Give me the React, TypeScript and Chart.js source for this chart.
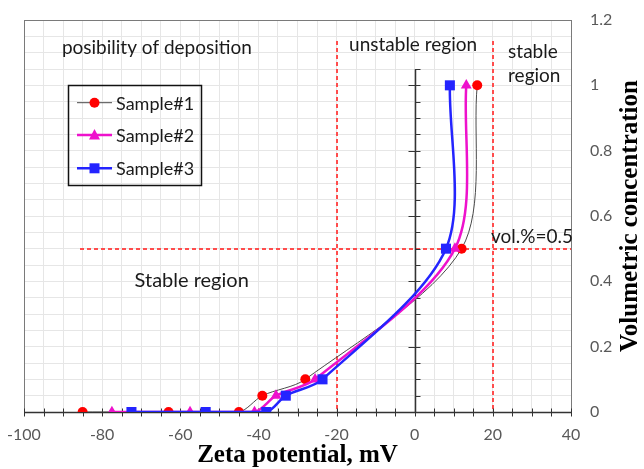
import React, { useEffect, useRef } from "react";
import { Chart, registerables } from "chart.js";

Chart.register(...registerables);

// ---- data ----
const seriesNames = ["Sample#1", "Sample#2", "Sample#3"];
const sample1X = [-85, -63, -45, -39, -28, 12, 16];
const sample1Y = [0, 0, 0, 0.05, 0.1, 0.5, 1.0];
const sample2X = [-77.5, -57.5, -41, -35.5, -25.5, 10.3, 13.2];
const sample2Y = [0, 0, 0, 0.05, 0.1, 0.5, 1.0];
const sample3X = [-72.5, -53.5, -38, -33, -23.6, 8, 9];
const sample3Y = [0, 0, 0, 0.05, 0.1, 0.5, 1.0];

const xTickLabels = [-100, -80, -60, -40, -20, 0, 20, 40];
const yTickLabels = [0, 0.2, 0.4, 0.6, 0.8, 1, 1.2];

const verticalRegionLines = [-20, 20];
const regionLineTop = 1.135;
const thresholdY = 0.5;
const thresholdStartX = -85.7;

const xTitle = "Zeta potential, mV";
const yTitle = "Volumetric concentration";

const toPoints = (xs: number[], ys: number[]) => xs.map((x, i) => ({ x, y: ys[i] }));

const COLORS = {
  s1Line: "#4a4a4a",
  s1Point: "#ff0000",
  s2: "#ee11cc",
  s3: "#2424ff",
  grid: "#e6e6e6",
  tick: "#595959",
  red: "#ff4d4d",
};

const SANS = "Lato, 'Open Sans', sans-serif";
const SERIF = "'Liberation Serif', 'DejaVu Serif', serif";

function drawMarker(ctx: CanvasRenderingContext2D, style: string, x: number, y: number, color: string) {
  ctx.fillStyle = color;
  ctx.beginPath();
  if (style === "circle") {
    ctx.arc(x, y, 5, 0, Math.PI * 2);
  } else if (style === "triangle") {
    ctx.moveTo(x, y - 6);
    ctx.lineTo(x + 5.5, y + 4.5);
    ctx.lineTo(x - 5.5, y + 4.5);
    ctx.closePath();
  } else {
    ctx.rect(x - 5, y - 5, 10, 10);
  }
  ctx.fill();
}

const overlay = {
  id: "overlay",
  beforeDatasetsDraw(chart: any) {
    const { ctx, chartArea: a, scales } = chart;
    const x = scales.x;
    const y = scales.y;
    ctx.save();
    // plot border
    ctx.strokeStyle = "#7a7a7a";
    ctx.lineWidth = 1;
    ctx.strokeRect(Math.round(a.left) + 0.5, Math.round(a.top) + 0.5, Math.round(a.right - a.left), Math.round(a.bottom - a.top));

    // red dashed region lines (drawn as filled dashes, 2px wide)
    ctx.fillStyle = COLORS.red;
    const dash = 4, gap = 3, w = 2;
    for (const v of verticalRegionLines) {
      const px = Math.round(x.getPixelForValue(v)) - 1;
      const top = Math.round(y.getPixelForValue(regionLineTop));
      const bottom = Math.round(y.getPixelForValue(0));
      for (let p = top; p < bottom; p += dash + gap) {
        ctx.fillRect(px, p, w, Math.min(dash, bottom - p));
      }
    }
    const py = Math.round(y.getPixelForValue(thresholdY)) - 1;
    const hx0 = Math.round(x.getPixelForValue(thresholdStartX));
    const hx1 = Math.round(a.right);
    for (let p = hx0; p < hx1; p += dash + gap) {
      ctx.fillRect(p, py, Math.min(dash, hx1 - p), w);
    }

    // x axis at y=0 with crossing ticks
    const y0 = Math.round(y.getPixelForValue(0)) + 0.5;
    ctx.strokeStyle = "#333";
    ctx.lineWidth = 1.5;
    ctx.beginPath();
    ctx.moveTo(a.left, y0);
    ctx.lineTo(a.right, y0);
    ctx.stroke();
    ctx.lineWidth = 1;
    for (let v = -100; v <= 40; v += 5) {
      const px = Math.round(x.getPixelForValue(v)) + 0.5;
      ctx.beginPath();
      ctx.moveTo(px, y0 - 4);
      ctx.lineTo(px, y0 + 4);
      ctx.stroke();
    }

    // y axis at x=0
    const x0 = Math.round(x.getPixelForValue(0)) + 0.5;
    ctx.lineWidth = 1.5;
    ctx.beginPath();
    ctx.moveTo(x0, y.getPixelForValue(0));
    ctx.lineTo(x0, y.getPixelForValue(1.05));
    ctx.stroke();
    ctx.lineWidth = 1;
    for (let i = 1; i <= 21; i++) {
      const v = i * 0.05;
      const p = Math.round(y.getPixelForValue(v)) + 0.5;
      const major = i % 4 === 0;
      ctx.beginPath();
      ctx.moveTo(major ? x0 - 7 : x0, p);
      ctx.lineTo(x0 + 5, p);
      ctx.stroke();
    }
    ctx.restore();
  },
  afterDraw(chart: any) {
    const { ctx, chartArea: a, scales } = chart;
    const x = scales.x;
    const y = scales.y;
    ctx.save();
    ctx.fillStyle = "#1a1a1a";
    ctx.textBaseline = "middle";
    ctx.textAlign = "left";
    ctx.font = `19px ${SANS}`;
    const label = (t: string, xv: number, yv: number) =>
      ctx.fillText(t, x.getPixelForValue(xv), y.getPixelForValue(yv));
    label("posibility of deposition", -90.3, 1.114);
    label("unstable region", -16.8, 1.123);
    label("stable", 23.9, 1.102);
    label("region", 23.9, 1.028);
    label("vol.%=0.5", 19.5, 0.536);
    ctx.font = `20px ${SANS}`;
    label("Stable region", -71.7, 0.401);

    // legend box
    const lx = 68, ly = 85, lw = 133, lh = 100;
    ctx.strokeStyle = "#111";
    ctx.lineWidth = 1.5;
    ctx.strokeRect(lx + 0.5, ly + 0.5, lw, lh);
    const rows = [102.7, 135, 168.3];
    const lineColors = [COLORS.s1Line, COLORS.s2, COLORS.s3];
    const lineWidths = [1, 2.5, 2.5];
    const markColors = [COLORS.s1Point, COLORS.s2, COLORS.s3];
    const styles = ["circle", "triangle", "rect"];
    ctx.font = `18px ${SANS}`;
    rows.forEach((ry, i) => {
      ctx.strokeStyle = lineColors[i];
      ctx.lineWidth = lineWidths[i];
      ctx.beginPath();
      ctx.moveTo(77, ry);
      ctx.lineTo(112, ry);
      ctx.stroke();
      drawMarker(ctx, styles[i], 94.5, ry, markColors[i]);
      ctx.fillStyle = "#1a1a1a";
      ctx.fillText(seriesNames[i], 116, ry + 1);
    });

    // axis titles
    ctx.fillStyle = "#000";
    ctx.font = `bold 25px ${SERIF}`;
    ctx.textAlign = "center";
    ctx.fillText(xTitle, (a.left + a.right) / 2, 456);
    ctx.save();
    ctx.translate(631, (a.top + a.bottom) / 2);
    ctx.rotate(-Math.PI / 2);
    ctx.font = `bold 25px ${SERIF}`;
    ctx.fillText(yTitle, 0, 0);
    ctx.restore();
    ctx.restore();
  },
};

export default function App() {
  const ref = useRef<HTMLCanvasElement | null>(null);
  useEffect(() => {
    if (!ref.current) return;
    const chart = new Chart(ref.current, {
      type: "scatter",
      data: {
        datasets: [
          {
            label: seriesNames[0],
            data: toPoints(sample1X, sample1Y),
            showLine: true,
            tension: 0.3,
            borderColor: COLORS.s1Line,
            borderWidth: 1,
            pointStyle: "circle",
            pointRadius: 5,
            pointBackgroundColor: COLORS.s1Point,
            pointBorderWidth: 0,
            order: 3,
          },
          {
            label: seriesNames[1],
            data: toPoints(sample2X, sample2Y),
            showLine: true,
            tension: 0.3,
            borderColor: COLORS.s2,
            borderWidth: 2.5,
            pointStyle: "triangle",
            pointRadius: 6.3,
            pointBackgroundColor: COLORS.s2,
            pointBorderWidth: 0,
            order: 2,
          },
          {
            label: seriesNames[2],
            data: toPoints(sample3X, sample3Y),
            showLine: true,
            tension: 0.3,
            borderColor: COLORS.s3,
            borderWidth: 2.5,
            pointStyle: "rect",
            pointRadius: 7.1,
            pointBackgroundColor: COLORS.s3,
            pointBorderWidth: 0,
            order: 1,
          },
        ],
      },
      options: {
        animation: false,
        responsive: false,
        maintainAspectRatio: false,
        layout: { padding: { left: 24, top: 20, right: 0, bottom: 0 } },
        plugins: { legend: { display: false }, tooltip: { enabled: false } },
        scales: {
          x: {
            type: "linear",
            position: "bottom",
            min: -100,
            max: 40,
            afterFit: (s: any) => {
              s.height = 57;
              s.paddingLeft = 0;
              s.paddingRight = 0;
            },
            ticks: {
              stepSize: 5,
              autoSkip: false,
              maxRotation: 0,
              padding: 13,
              color: COLORS.tick,
              font: { family: SANS, size: 16 },
              callback: (v: any) => (xTickLabels.includes(Number(v)) ? String(v) : ""),
            },
            grid: { color: COLORS.grid, drawTicks: false },
            border: { display: false },
          },
          y: {
            type: "linear",
            position: "right",
            min: 0,
            max: 1.2,
            afterFit: (s: any) => {
              s.width = 73;
              s.paddingTop = 0;
              s.paddingBottom = 0;
            },
            ticks: {
              stepSize: 0.05,
              autoSkip: false,
              padding: 19,
              color: COLORS.tick,
              font: { family: SANS, size: 16 },
              callback: (v: any) => {
                const r = Math.round(Number(v) * 100) / 100;
                const hit = yTickLabels.find((t) => Math.abs(t - r) < 1e-6);
                return hit !== undefined ? String(hit) : "";
              },
            },
            grid: { color: COLORS.grid, drawTicks: false },
            border: { display: false },
          },
        },
      },
      plugins: [overlay],
    });
    return () => chart.destroy();
  }, []);
  return (
    <div style={{ position: "absolute", left: 0, top: 0, width: 644, height: 469, background: "#fff" }}>
      <canvas ref={ref} width={644} height={469} />
    </div>
  );
}
